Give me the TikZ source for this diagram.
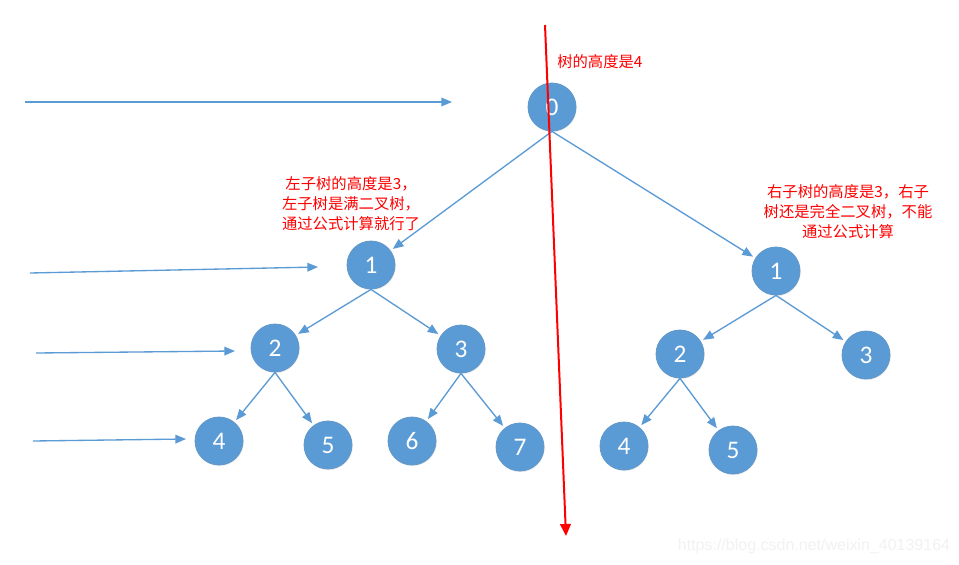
\documentclass[tikz,border=0pt]{standalone}
\usepackage{fontspec}
\setmainfont{Carlito}
\newfontfamily\cjk{Noto Sans CJK SC}
\newfontfamily\markfont{Liberation Sans}
\usetikzlibrary{arrows.meta,shadows}
\definecolor{myblue}{RGB}{91,155,213}
\definecolor{myred}{RGB}{255,0,0}

\begin{document}
\begin{tikzpicture}[x=0.75pt, y=-0.75pt,
    treenode/.style={circle, fill=myblue, draw=myblue!85!gray, line width=0.6pt,
        minimum size=36pt, inner sep=0pt, text=white,
        drop shadow={opacity=0.15, shadow xshift=0.6pt, shadow yshift=-0.8pt},
        font=\fontsize{19}{19}\selectfont},
    edge/.style={draw=myblue, line width=1pt, shorten >=2pt,
        -{Triangle[length=8pt, width=6.5pt]}},
    note/.style={text=myred, font=\cjk\fontsize{11.5}{15}\selectfont, align=center}]
    \useasboundingbox[fill=white] (0,0) rectangle (959,564);

    % Full tree
    \node[treenode] (n0) at (552,107) {0};
    % left subtree
    \node[treenode] (l1) at (371,265) {1};
    \node[treenode] (l2) at (275,348) {2};
    \node[treenode] (l3) at (461,349) {3};
    \node[treenode] (l4) at (219,441) {4};
    \node[treenode] (l5) at (328,445) {5};
    \node[treenode] (l6) at (412,441) {6};
    \node[treenode] (l7) at (520,447) {7};
    % right subtree
    \node[treenode] (r1) at (776,271) {1};
    \node[treenode] (r2) at (680,354) {2};
    \node[treenode] (r3) at (866,355) {3};
    \node[treenode] (r4) at (624,446) {4};
    \node[treenode] (r5) at (733,450) {5};

    \draw[edge] (n0.south) -- (l1);
    \draw[edge] (n0.south) -- (r1);
    \draw[edge] (l1.south) -- (l2);
    \draw[edge] (l1.south) -- (l3);
    \draw[edge] (l2.south) -- (l4);
    \draw[edge] (l2.south) -- (l5);
    \draw[edge] (l3.south) -- (l6);
    \draw[edge] (l3.south) -- (l7);
    \draw[edge] (r1.south) -- (r2);
    \draw[edge] (r1.south) -- (r3);
    \draw[edge] (r2.south) -- (r4);
    \draw[edge] (r2.south) -- (r5);

    % level arrows
    \coordinate (a0) at (25,102);  \coordinate (b0) at (452,102);
    \coordinate (a1) at (30,273);  \coordinate (b1) at (318,267);
    \coordinate (a2) at (36,353);  \coordinate (b2) at (235,351);
    \coordinate (a3) at (33,441);  \coordinate (b3) at (186,439);
    \foreach \i in {0,...,3}
        \draw[edge, shorten >=0pt] (a\i) -- (b\i);

    % notes
    \node[note, anchor=west, inner sep=0pt] (hall) at (557,62) {树的高度是4};
    \node[note] (hleft) at (351,204) {左子树的高度是3，\\左子树是满二叉树，\\通过公式计算就行了};
    \node[note] (hright) at (848,212) {右子树的高度是3，右子\\树还是完全二叉树，不能\\通过公式计算};

    % height line
    \coordinate (top) at (545,25);
    \coordinate (bot) at (566,536);
    \draw[myred, line width=1.5pt, -{Triangle[length=9pt, width=8pt]}] (top) -- (bot);

    \node[text=black!5, font=\markfont\fontsize{12}{14}\selectfont] (wm) at (814,546) {https://blog.csdn.net/weixin\_40139164};
\end{tikzpicture}
\end{document}
